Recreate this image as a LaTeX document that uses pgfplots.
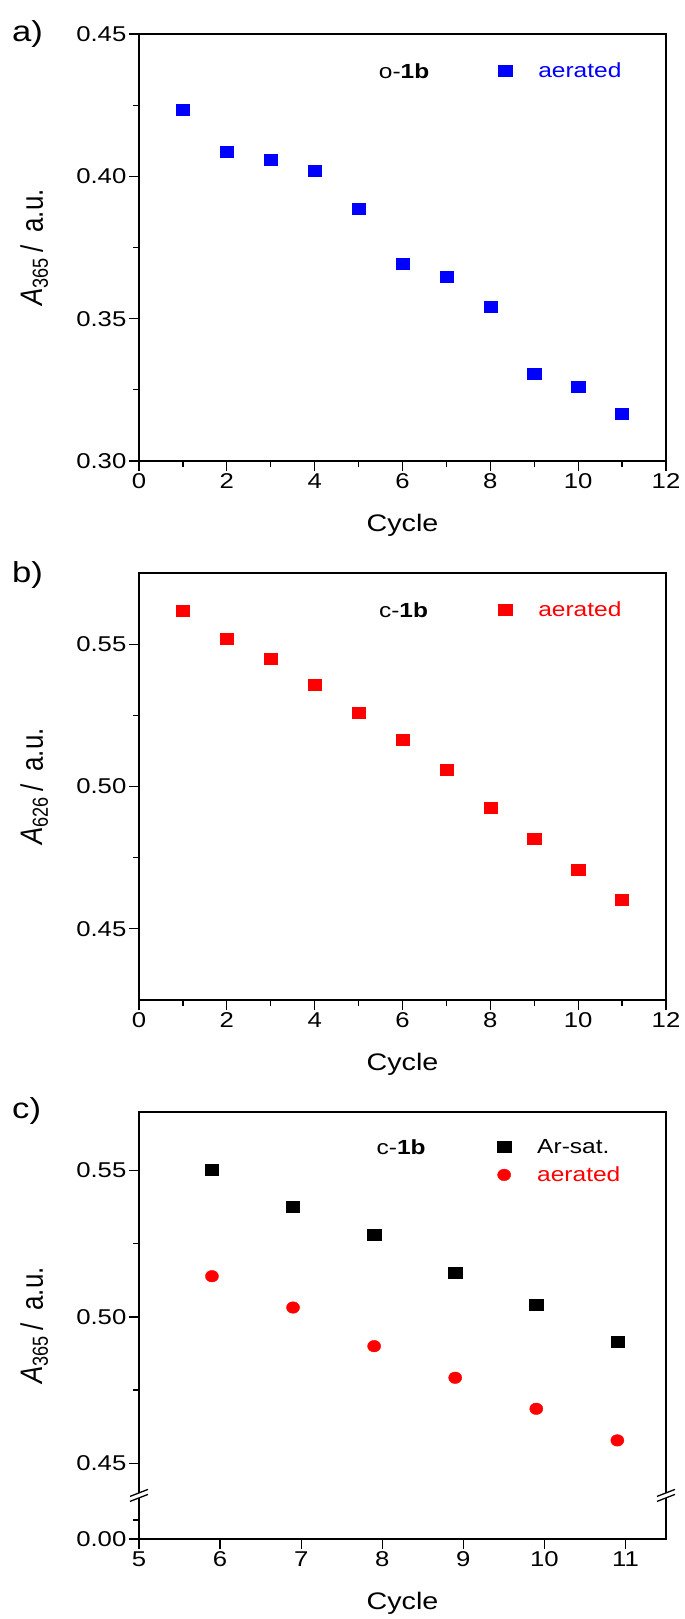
\documentclass[border=0pt]{standalone}
\usepackage{fontspec}
\setmainfont{Liberation Sans}[FakeStretch=1.2]
\newfontfamily\ylabfont{Liberation Sans}
\usepackage{graphicx}
\usepackage{pgfplots}
\pgfplotsset{compat=1.18}
\definecolor{oblue}{RGB}{0,0,255}
\definecolor{ored}{RGB}{255,0,0}
\newcommand{\tickfont}{\fontsize{21.5}{25}\selectfont}
\newcommand{\labfont}{\fontsize{24}{29}\selectfont}
\newcommand{\legfont}{\fontsize{20.5}{24}\selectfont}
\newcommand{\panfont}{\fontsize{29}{35}\selectfont}
\newcommand{\ylab}[1]{\scalebox{1}[1.2]{\ylabfont\fontsize{26}{31}\selectfont\textit{A}\textsubscript{#1}\hspace{0.2em}/\hspace{0.5em}a.u.}}
\pgfplotsset{
  panel/.style={
    scale only axis, width=527bp, height=427bp, anchor=north west,
    axis line style={line width=1.6bp},
    every tick/.style={line width=1.3bp, black},
    tick align=outside, tick pos=left,
    major tick length=10bp, minor tick length=6bp,
    /pgf/number format/assume math mode=true,
    tick label style={font=\tickfont},
    xticklabel style={inner sep=2.5bp},
    yticklabel style={inner sep=2.5bp},
    xlabel={Cycle},
    every axis x label/.style={at={(axis description cs:0.5,0)}, anchor=center, yshift=-64bp, font=\labfont},
    every axis y label/.style={at={(axis description cs:-0.172,0.5)}, rotate=90, anchor=south, inner sep=0pt},
    legend style={draw=none, fill=none, inner sep=0pt, font=\legfont, anchor=west,
      cells={anchor=west}, /tikz/every odd column/.append style={column sep=24.5bp}},
    legend image code/.code={\draw[#1] plot coordinates {(0bp,0bp)};},
    clip=false,
  },
  sq/.style={only marks, mark=square*, mark size=5.5bp, mark options={xscale=1.2}},
  ci/.style={only marks, mark=*, mark size=5.8bp, mark options={xscale=1.13}},
}
\begin{document}
\begin{tikzpicture}
\path[use as bounding box] (0,0) rectangle (685bp,-1619bp);
\node[font=\panfont, anchor=north west, inner sep=0pt] at (12bp,-20bp) {a)};
\node[font=\panfont, anchor=north west, inner sep=0pt] at (12bp,-561bp) {b)};
\node[font=\panfont, anchor=north west, inner sep=0pt] at (12bp,-1097bp) {c)};

% panel a
\begin{axis}[panel, at={(139bp,-34bp)},
  xmin=0, xmax=12, ymin=0.30, ymax=0.45,
  xtick={0,2,4,6,8,10,12}, minor xtick={1,3,5,7,9,11},
  ytick={0.30,0.35,0.40,0.45}, minor ytick={0.325,0.375,0.425},
  yticklabel style={/pgf/number format/.cd, fixed, fixed zerofill, precision=2},
  ylabel={\ylab{365}},
  legend style={at={(axis description cs:0.682,0.913)}}]
\addplot[sq, oblue] coordinates {
 (1,0.4233) (2,0.4085) (3,0.4057) (4,0.4020) (5,0.3885) (6,0.3693)
 (7,0.3646) (8,0.3542) (9,0.3307) (10,0.3260) (11,0.3165)};
\addlegendentry{\textcolor{oblue}{aerated}}
\node[font=\legfont, anchor=base] at (axis description cs:0.503,0.895) {o-\textbf{1b}};
\end{axis}

% panel b
\begin{axis}[panel, at={(139bp,-573bp)},
  xmin=0, xmax=12, ymin=0.425, ymax=0.575,
  xtick={0,2,4,6,8,10,12}, minor xtick={1,3,5,7,9,11},
  ytick={0.45,0.50,0.55}, minor ytick={0.475,0.525},
  yticklabel style={/pgf/number format/.cd, fixed, fixed zerofill, precision=2},
  ylabel={\ylab{626}},
  legend style={at={(axis description cs:0.682,0.914)}}]
\addplot[sq, ored] coordinates {
 (1,0.5619) (2,0.5519) (3,0.5449) (4,0.5359) (5,0.5260) (6,0.5163)
 (7,0.5058) (8,0.4925) (9,0.4816) (10,0.4709) (11,0.4602)};
\addlegendentry{\textcolor{ored}{aerated}}
\node[font=\legfont, anchor=base] at (axis description cs:0.502,0.895) {c-\textbf{1b}};
\end{axis}

% panel c
\begin{axis}[panel, at={(139bp,-1112bp)},
  xmin=5, xmax=11.5, ymin=0.4241, ymax=0.57,
  xtick={5,6,7,8,9,10,11},
  ytick={0.4241,0.45,0.50,0.55}, yticklabels={0.00,0.45,0.50,0.55},
  minor ytick={0.4306,0.475,0.525},
  ylabel={\ylab{365}},
  legend style={at={(axis description cs:0.680,0.885)}, /tikz/row sep=8bp}]
\addplot[sq, black] coordinates {
 (5.9,0.5504) (6.9,0.5376) (7.9,0.5281) (8.9,0.5151) (9.9,0.5041) (10.9,0.4916)};
\addlegendentry{Ar-sat.}
\addplot[ci, ored] coordinates {
 (5.9,0.5139) (6.9,0.5032) (7.9,0.4900) (8.9,0.4792) (9.9,0.4686) (10.9,0.4578)};
\addlegendentry{\textcolor{ored}{aerated}}
\node[font=\legfont, anchor=base] at (axis description cs:0.4975,0.90) {c-\textbf{1b}};
\coordinate (bl) at (axis cs:5,0.439);
\coordinate (br) at (axis cs:11.5,0.439);
\end{axis}
\foreach \p in {bl,br}{
  \fill[white] ([shift={(-9bp,-6bp)}]\p) -- ([shift={(9bp,1bp)}]\p) -- ([shift={(9bp,6bp)}]\p) -- ([shift={(-9bp,-1bp)}]\p) -- cycle;
  \draw[line width=1.3bp] ([shift={(-9bp,-6bp)}]\p) -- ([shift={(9bp,1bp)}]\p);
  \draw[line width=1.3bp] ([shift={(-9bp,-1bp)}]\p) -- ([shift={(9bp,6bp)}]\p);
}
\end{tikzpicture}
\end{document}
